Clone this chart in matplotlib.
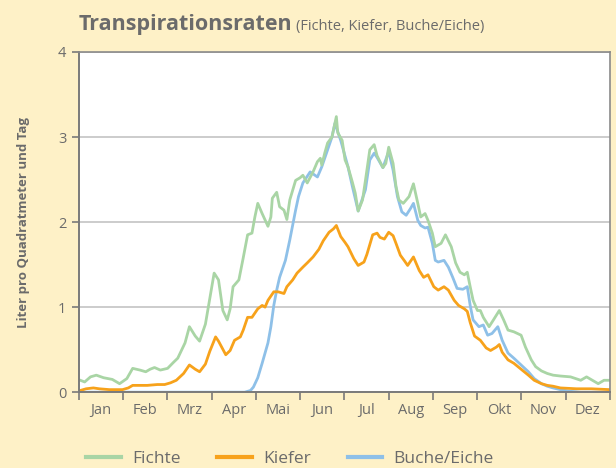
import numpy as np
import matplotlib.pyplot as plt

# Tagesdaten (Tag im Jahr, Liter pro m² und Tag)
fichte_tag = [1, 4, 8, 12, 17, 20, 23, 28, 33, 37, 42, 46, 49, 52, 56, 61, 65, 68, 73, 76,
              80, 83, 87, 90, 93, 96, 99, 102, 104, 106, 110, 113, 116, 119, 121, 123, 126, 130,
              132, 133, 136, 138, 141, 143, 145, 149, 152, 154, 157, 161, 164, 166, 167, 169,
              171, 174, 177, 178, 181, 183, 185, 188, 190, 192, 195, 197, 200, 203, 205, 209,
              211, 213, 216, 218, 220, 223, 227, 230, 233, 235, 238, 240, 243, 245, 249, 252,
              256, 259, 262, 265, 267, 269, 271, 274, 276, 278, 282, 285, 289, 292, 295, 299,
              304, 307, 311, 314, 318, 322, 326, 331, 338, 345, 349, 352, 357, 361, 365]
fichte = [0.14, 0.12, 0.18, 0.20, 0.17, 0.16, 0.15, 0.10, 0.16, 0.28, 0.26, 0.24, 0.27, 0.29,
          0.26, 0.28, 0.35, 0.40, 0.58, 0.77, 0.66, 0.60, 0.80, 1.10, 1.40, 1.32, 0.96, 0.85,
          0.98, 1.24, 1.32, 1.58, 1.85, 1.87, 2.06, 2.22, 2.10, 1.95, 2.06, 2.28, 2.35, 2.18,
          2.14, 2.03, 2.26, 2.49, 2.52, 2.55, 2.46, 2.59, 2.71, 2.75, 2.67, 2.81, 2.93, 3.00,
          3.24, 3.05, 2.96, 2.73, 2.65, 2.47, 2.34, 2.13, 2.26, 2.49, 2.85, 2.91, 2.78, 2.64,
          2.69, 2.88, 2.69, 2.42, 2.26, 2.22, 2.30, 2.45, 2.22, 2.06, 2.10, 2.02, 1.87, 1.71,
          1.75, 1.85, 1.71, 1.52, 1.41, 1.38, 1.41, 1.24, 1.08, 0.96, 0.96, 0.88, 0.77, 0.85,
          0.96, 0.85, 0.73, 0.71, 0.67, 0.53, 0.38, 0.30, 0.25, 0.22, 0.20, 0.19, 0.18, 0.14,
          0.18, 0.15, 0.10, 0.14, 0.14]

kiefer_tag = [1, 5, 10, 14, 21, 30, 34, 37, 42, 47, 54, 59, 63, 67, 72, 76, 80, 83, 87, 90,
              94, 96, 101, 104, 107, 111, 113, 116, 119, 123, 126, 128, 130, 134, 137, 141, 143,
              147, 150, 154, 157, 161, 165, 168, 172, 175, 177, 180, 183, 185, 189, 192, 196,
              198, 202, 205, 207, 210, 213, 216, 218, 221, 224, 226, 230, 234, 237, 240, 244,
              247, 251, 254, 258, 261, 265, 267, 269, 272, 276, 280, 283, 287, 289, 291, 295,
              299, 304, 309, 313, 318, 322, 326, 331, 342, 352, 365]
kiefer = [0.02, 0.04, 0.05, 0.04, 0.03, 0.03, 0.05, 0.08, 0.08, 0.08, 0.09, 0.09, 0.11, 0.14,
          0.22, 0.32, 0.27, 0.24, 0.33, 0.48, 0.65, 0.60, 0.44, 0.49, 0.61, 0.65, 0.73, 0.88,
          0.88, 0.98, 1.02, 1.00, 1.08, 1.18, 1.18, 1.16, 1.24, 1.32, 1.40, 1.47, 1.52, 1.59,
          1.68, 1.78, 1.88, 1.92, 1.96, 1.83, 1.76, 1.71, 1.57, 1.49, 1.53, 1.62, 1.85, 1.87,
          1.82, 1.80, 1.88, 1.84, 1.75, 1.61, 1.54, 1.49, 1.59, 1.43, 1.35, 1.38, 1.24, 1.20,
          1.24, 1.20, 1.08, 1.02, 0.98, 0.95, 0.82, 0.66, 0.61, 0.52, 0.49, 0.53, 0.56, 0.47,
          0.38, 0.34, 0.27, 0.20, 0.14, 0.10, 0.08, 0.07, 0.05, 0.04, 0.04, 0.03]

buche_tag = [0, 114, 118, 120, 123, 126, 130, 132, 134, 136, 138, 142, 145, 149, 151, 154, 159,
             164, 167, 171, 174, 176, 180, 185, 188, 192, 197, 200, 203, 205, 209, 213, 216,
             219, 222, 225, 228, 230, 233, 235, 238, 240, 243, 245, 247, 251, 254, 257, 260,
             264, 267, 269, 271, 275, 278, 281, 284, 288, 291, 295, 299, 304, 309, 313, 318,
             322, 326, 331, 338, 345, 365]
buche = [0, 0, 0.02, 0.06, 0.17, 0.34, 0.58, 0.77, 1.02, 1.20, 1.35, 1.55, 1.79, 2.14, 2.30,
         2.46, 2.59, 2.53, 2.65, 2.85, 3.00, 3.16, 2.96, 2.65, 2.42, 2.13, 2.38, 2.73, 2.81,
         2.76, 2.64, 2.83, 2.61, 2.30, 2.12, 2.08, 2.16, 2.22, 2.02, 1.96, 1.93, 1.94, 1.75,
         1.55, 1.53, 1.55, 1.47, 1.35, 1.22, 1.21, 1.24, 1.02, 0.85, 0.77, 0.79, 0.67, 0.69,
         0.77, 0.61, 0.46, 0.40, 0.32, 0.24, 0.16, 0.10, 0.07, 0.05, 0.03, 0.01, 0, 0]

monate = ['Jan', 'Feb', 'Mrz', 'Apr', 'Mai', 'Jun', 'Jul', 'Aug', 'Sep', 'Okt', 'Nov', 'Dez']

bg = '#FEF1C7'
grau = '#6b6b6b'
c_fichte = '#A9D5A5'
c_kiefer = '#F7A21B'
c_buche = '#8EC0E8'

plt.rcParams['font.family'] = ['Open Sans', 'DejaVu Sans']

fig = plt.figure(figsize=(6.16, 4.68), dpi=100, facecolor=bg)
ax = fig.add_axes([0.128, 0.162, 0.862, 0.727])
ax.set_facecolor('white')

l3, = ax.plot(buche_tag, buche, color=c_buche, lw=2.0)
l2, = ax.plot(kiefer_tag, kiefer, color=c_kiefer, lw=2.0)
l1, = ax.plot(fichte_tag, fichte, color=c_fichte, lw=2.0)

ax.set_xlim(0, 365)
ax.set_ylim(0, 4)
ax.set_yticks([0, 1, 2, 3, 4])
ax.yaxis.grid(True, color='#c4c4c4', lw=1.2)
ax.set_axisbelow(True)

grenzen = np.linspace(0, 365, 13)
ax.set_xticks(grenzen)
ax.set_xticklabels([])
ax.set_xticks((grenzen[:-1] + grenzen[1:]) / 2, minor=True)
ax.set_xticklabels(monate, minor=True)
ax.tick_params(axis='x', which='major', length=6, width=1.2, color='#7a7a7a', direction='out')
ax.tick_params(axis='x', which='minor', length=0, pad=8, labelsize=10.5, labelcolor=grau)
ax.tick_params(axis='y', length=5, width=1.2, color='#7a7a7a', labelsize=10.5,
               labelcolor=grau, pad=4)

for s in ['left', 'bottom']:
    ax.spines[s].set_color('#7a7a7a')
    ax.spines[s].set_linewidth(1.4)
for s in ['top', 'right']:
    ax.spines[s].set_color('#8a8a8a')
    ax.spines[s].set_linewidth(1.2)

ax.set_ylabel('Liter pro Quadratmeter und Tag', fontsize=9.5, fontweight='bold',
              color=grau, labelpad=20)

fig.text(0.128, 0.947, 'Transpirationsraten', fontsize=15.5, fontweight='bold',
         color=grau, va='center', ha='left')
fig.text(0.481, 0.943, '(Fichte, Kiefer, Buche/Eiche)', fontsize=10.5,
         color=grau, va='center', ha='left')

fig.legend([l1, l2, l3], ['Fichte', 'Kiefer', 'Buche/Eiche'], loc='center left',
           bbox_to_anchor=(0.115, 0.02), ncol=3, frameon=False, fontsize=12.5,
           labelcolor=grau, handlelength=2.0, handletextpad=0.65, columnspacing=2.1)
for h in fig.legends[0].legend_handles:
    h.set_linewidth(3)

fig.savefig('out.png', dpi=100, facecolor=bg)
